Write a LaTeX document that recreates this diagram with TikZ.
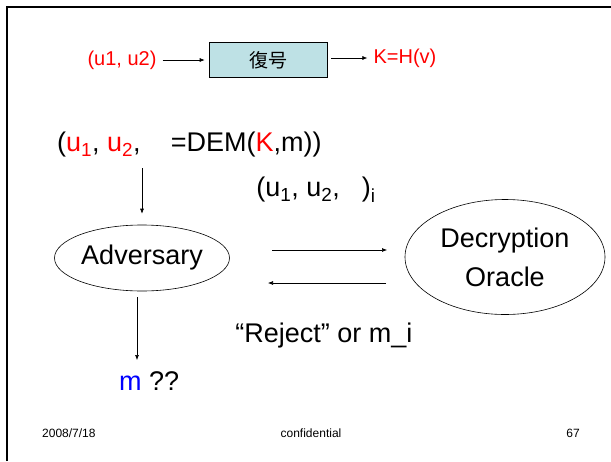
\documentclass[tikz,border=0pt]{standalone}
\usepackage{fontspec}
\setmainfont{Liberation Sans}
\newfontfamily\jpfont{Noto Sans CJK JP}
\usetikzlibrary{arrows.meta, positioning, shapes.geometric}

\definecolor{boxfill}{RGB}{190,225,229}

\begin{document}
\begin{tikzpicture}[
    x=1pt, y=-1pt,
    arr/.style={-{Latex[length=5pt,width=4pt]}, line width=0.6pt},
    big/.style={font=\fontsize{27}{39}\selectfont, inner sep=1pt},
    small/.style={font=\fontsize{20}{24}\selectfont, inner sep=1pt},
    foot/.style={font=\fontsize{12}{14}\selectfont, inner sep=0pt},
    oval/.style={draw, ellipse, line width=0.6pt, inner sep=0pt},
]
    \useasboundingbox (0,0) rectangle (611,461);
    % slide frame
    \draw[line width=2pt] (6.5,461) -- (6.5,6.5) -- (611,6.5);

    % Nodes
    \node (in) [small, text=red] at (122,60) {(u1, u2)};
    \node (dec) [draw, fill=boxfill, line width=0.6pt, minimum width=118pt,
                 minimum height=35pt, font=\jpfont\fontsize{19}{22}\selectfont]
                 at (268,60) {復号};
    \node (key) [small, text=red] at (405,58) {K=H(v)};

    \node (dem) [big, anchor=west] at (56,145)
        {(\textcolor{red}{u\textsubscript{1}}, \textcolor{red}{u\textsubscript{2}},\hspace{30pt}=DEM(\textcolor{red}{K},m))};

    \node (adv) [oval, big, minimum width=175pt, minimum height=66pt] at (142,258) {Adversary};
    \node (orc) [oval, big, align=center, minimum width=200pt, minimum height=115pt]
        at (505,257) {Decryption\\Oracle};

    \node (q) [big] at (316,190) {(u\textsubscript{1}, u\textsubscript{2},\hspace{22pt})\textsubscript{i}};
    \node (rep) [big] at (324,336) {“Reject” or m\_i};
    \node (ans) [big, anchor=west] at (118,381) {\textcolor{blue}{m} ??};

    \node (date) [foot, anchor=west] at (42,433) {2008/7/18};
    \node (conf) [foot] at (311,433) {confidential};
    \node (page) [foot] at (573,433) {67};

    \coordinate (ask) at (142,168);
    \coordinate (out) at (137,297);
    \coordinate (got) at (137,360);
    \coordinate (qs) at (272,250);
    \coordinate (qe) at (387,250);
    \coordinate (rs) at (386,283);
    \coordinate (re) at (268,283);

    % Connections
    \draw[arr, shorten <=5pt, shorten >=4pt] (in) -- (dec);
    \draw[arr, shorten <=4pt, shorten >=5pt] (dec.east |- key) -- (key);
    \draw[arr, shorten >=11pt] (ask) -- (adv);
    \draw[arr] (out) -- (got);
    \draw[arr] (qs) -- (qe);
    \draw[arr] (rs) -- (re);

\end{tikzpicture}
\end{document}
